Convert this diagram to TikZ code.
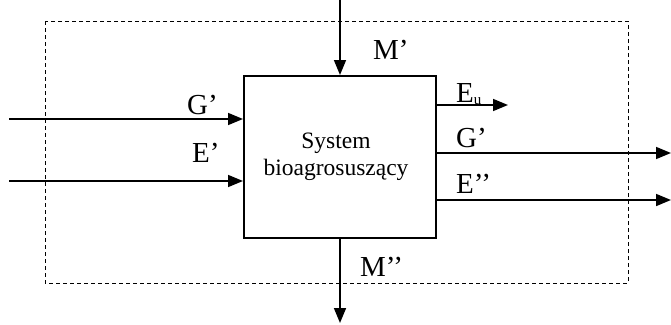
\documentclass[tikz,border=0pt]{standalone}
\usepackage{fontspec}
\setmainfont{Liberation Serif}
\usetikzlibrary{arrows.meta}
\begin{document}
\begin{tikzpicture}[x=1pt,y=-1pt,
  flow/.style={line width=1.6pt,-{Triangle[length=15pt,width=12pt]}},
  lbl/.style={inner sep=0pt,anchor=base west,font=\fontsize{29}{34}\selectfont},
  boundary/.style={line width=0.9pt,dash pattern=on 4pt off 3pt},
  sysbox/.style={draw,line width=2pt,minimum width=192pt,minimum height=162pt,inner sep=0pt},
  systext/.style={inner sep=0pt,align=center,anchor=base,font=\fontsize{23.5}{27}\selectfont}]
\useasboundingbox (0,0) rectangle (671,324);
\draw[boundary] (45,21) rectangle (628,283);
\node[sysbox] (sys) at (340,157) {};
\node[systext] (systxt) at (336,175) {System\\bioagrosuszący};
% free ends
\coordinate (mtop) at (340,0);
\coordinate (mbot) at (340,323);
\coordinate (gin) at (9,119);
\coordinate (ein) at (9,181);
\coordinate (euend) at (508,105);
\coordinate (goutend) at (671,153);
\coordinate (eoutend) at (671,200);
\draw[flow] (mtop) -- (sys.north);
\draw[flow] (sys.south) -- (mbot);
\draw[flow] (gin) -- (gin -| sys.west);
\draw[flow] (ein) -- (ein -| sys.west);
\draw[flow] (euend -| sys.east) -- (euend);
\draw[flow] (goutend -| sys.east) -- (goutend);
\draw[flow] (eoutend -| sys.east) -- (eoutend);
% labels
\node[lbl] (lm1) at (373,59) {M’};
\node[lbl] (lm2) at (360,276) {M’’};
\node[lbl] (lg1) at (187,114) {G’};
\node[lbl] (le1) at (192,162) {E’};
\node[lbl] (leu) at (456,102) {E\raisebox{-2.5pt}{\fontsize{15}{15}\selectfont u}};
\node[lbl] (lg2) at (456,147) {G’};
\node[lbl] (le2) at (456,193) {E’’};
\end{tikzpicture}
\end{document}
